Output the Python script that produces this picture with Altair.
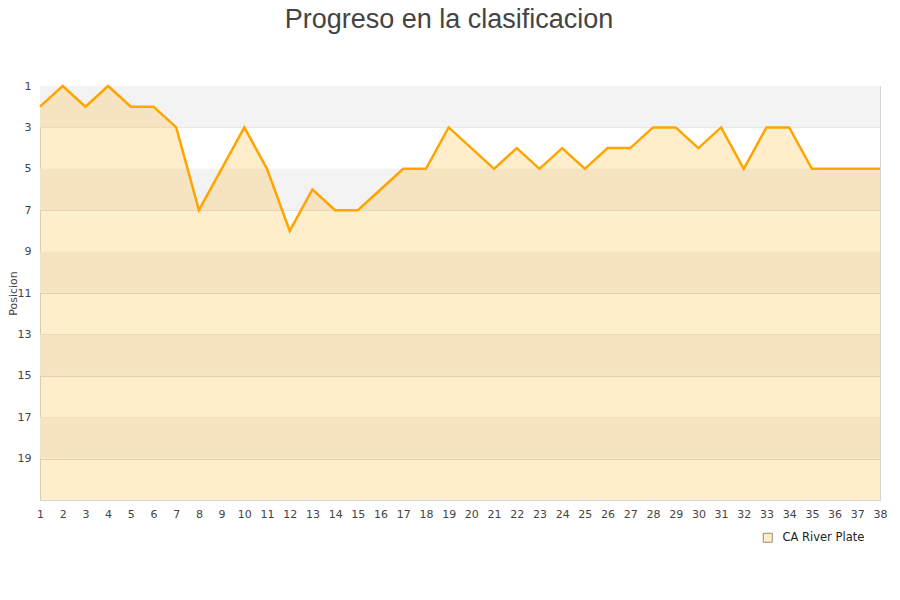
import altair as alt
import pandas as pd

jornadas = list(range(1, 39))
posiciones = [2, 1, 2, 1, 2, 2, 3, 7, 5, 3, 5, 8, 6, 7, 7, 6, 5, 5, 3, 4,
              5, 4, 5, 4, 5, 4, 4, 3, 3, 4, 3, 5, 3, 3, 5, 5, 5, 5]
equipo = "CA River Plate"
band_start = [1, 5, 9, 13, 17]
band_end = [3, 7, 11, 15, 19]
y_ticks = [1, 3, 5, 7, 9, 11, 13, 15, 17, 19]
y_bottom = 21

df = pd.DataFrame({"jornada": jornadas, "pos": posiciones, "equipo": equipo,
                   "base": y_bottom})
bands = pd.DataFrame({"y1": band_start, "y2": band_end})

W, H = 840, 414
yscale = alt.Scale(domain=[1, y_bottom], reverse=True, nice=False, zero=False)
xscale = alt.Scale(domain=[1, 38], nice=False, zero=False)

x_axis = alt.Axis(values=jornadas, title=None, ticks=False, grid=False,
                  domain=False, labelFontSize=11, labelColor="#444444",
                  labelFont="DejaVu Sans", labelPadding=8,
                  labelFlush=False, labelOverlap=False)
y_axis = alt.Axis(values=y_ticks, title="Posicion", ticks=False,
                  domain=False, gridColor="#dddddd",
                  labelFontSize=11, labelColor="#444444",
                  labelFont="DejaVu Sans", labelPadding=9,
                  titleFont="DejaVu Sans", titleFontSize=11,
                  titleFontWeight="normal", titleColor="#444444",
                  titleX=-21.5, titleY=207)

band_layer = alt.Chart(bands).mark_rect(color="#f3f3f3").encode(
    y=alt.Y("y1:Q", scale=yscale, axis=y_axis),
    y2="y2:Q",
)

area = alt.Chart(df).mark_area().encode(
    x=alt.X("jornada:Q", scale=xscale, axis=x_axis),
    y=alt.Y("pos:Q", scale=yscale, axis=y_axis),
    y2="base:Q",
    fill=alt.Fill("equipo:N",
                  scale=alt.Scale(domain=[equipo], range=["rgba(255,165,0,0.2)"]),
                  legend=alt.Legend(title=None, orient="none", legendX=722,
                                    legendY=446, symbolType="square",
                                    symbolSize=81,
                                    symbolStrokeColor="#9a8a70",
                                    symbolStrokeWidth=1, labelOffset=9,
                                    labelFont="DejaVu Sans", labelFontSize=11.5,
                                    labelColor="#222222")),
)

line = alt.Chart(df).mark_line(color="#ffa500", strokeWidth=2.5).encode(
    x=alt.X("jornada:Q", scale=xscale, axis=x_axis),
    y=alt.Y("pos:Q", scale=yscale, axis=y_axis),
)

chart = alt.layer(band_layer, area, line).properties(
    width=W, height=H,
    title=alt.TitleParams("Progreso en la clasificacion",
                          font="Liberation Sans",
                          fontSize=27, fontWeight="normal", color="#444444",
                          anchor="middle", offset=46, dx=-11),
    padding={"left": 32, "top": 78, "right": 12, "bottom": 60},
    autosize=alt.AutoSizeParams(type="none"),
).configure_view(stroke="#d6d6d6", strokeWidth=1)

chart.save("out.html", embed_options={"renderer": "svg", "actions": False})
